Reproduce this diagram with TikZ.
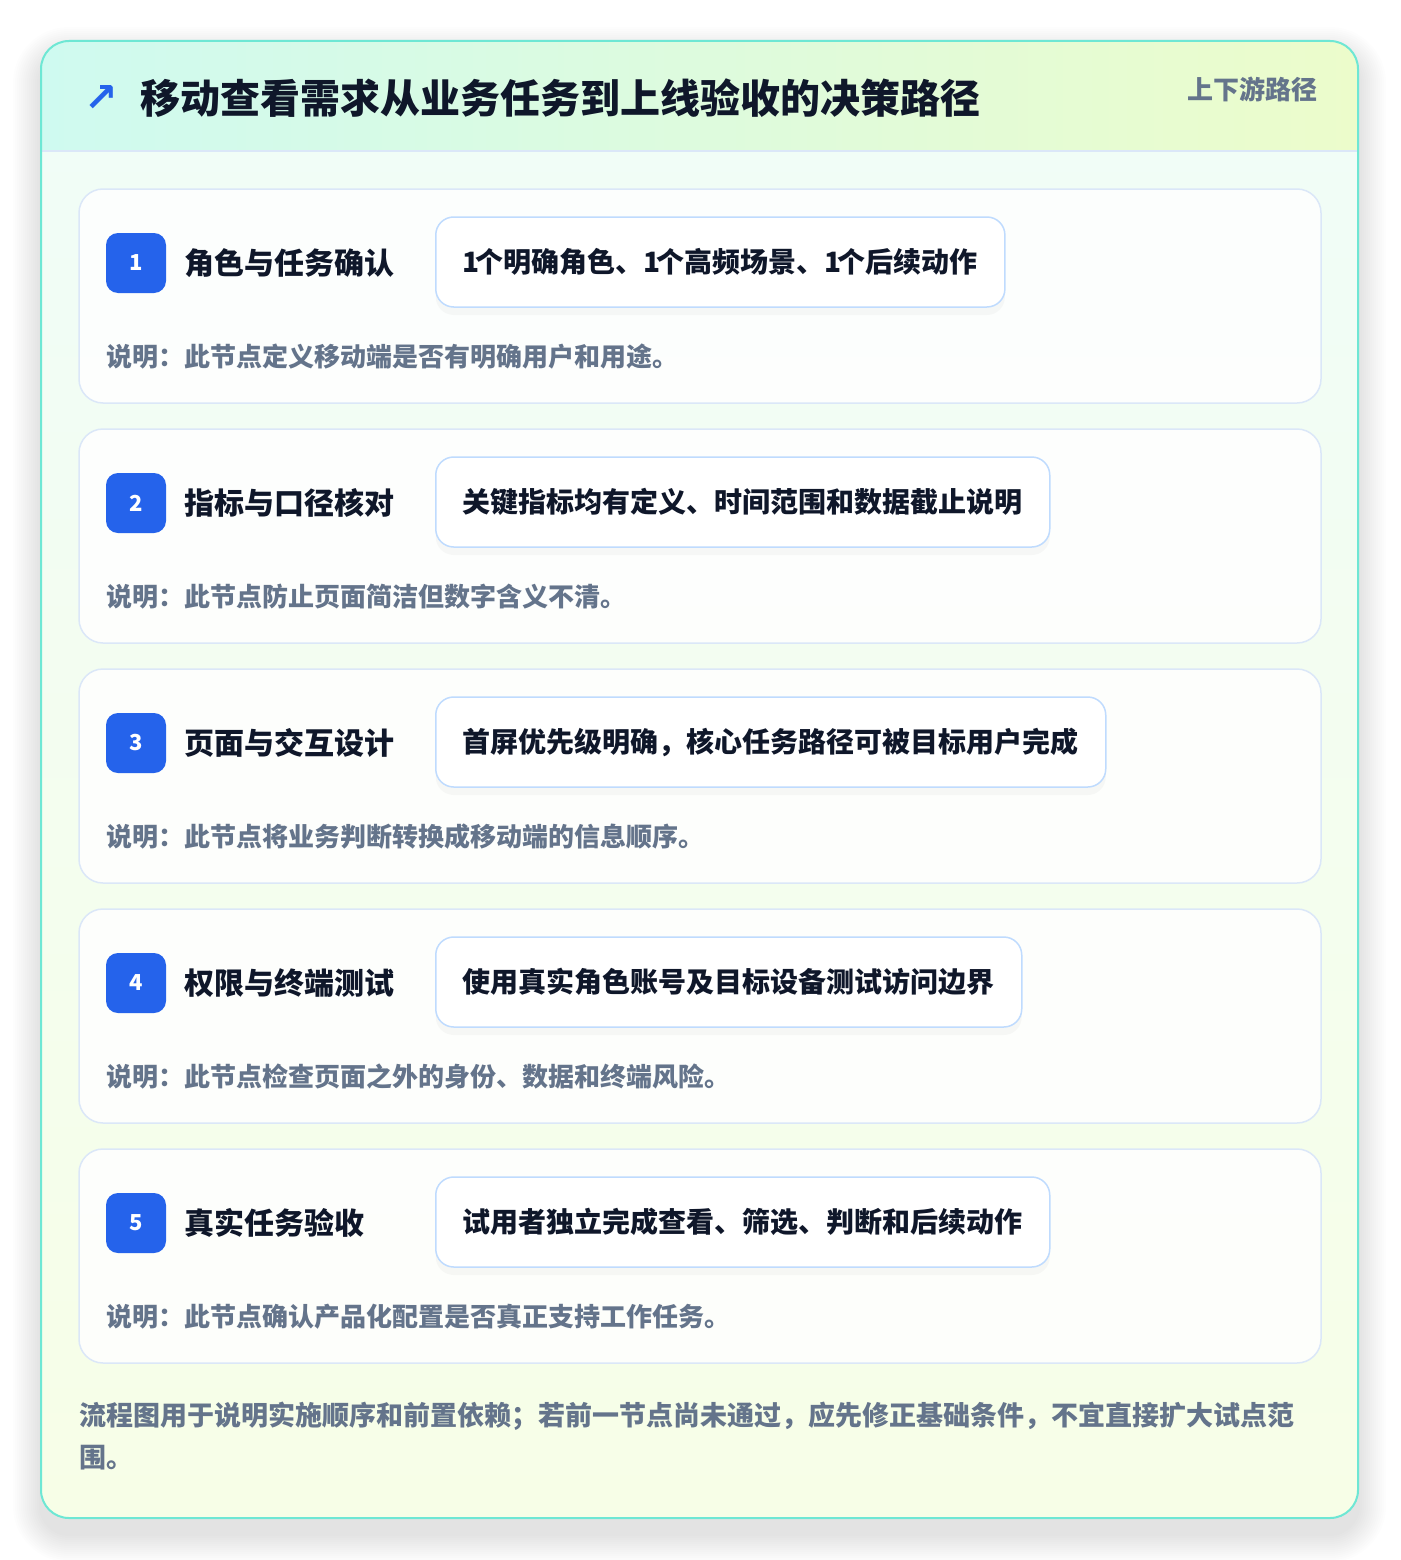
\documentclass[tikz,border=0pt]{standalone}
\usepackage{fontspec}
\setmainfont{Noto Sans CJK SC}
\newfontfamily\symfont{DejaVu Sans}
\usetikzlibrary{shadows}

\definecolor{frameteal}{HTML}{6EE7D4}
\definecolor{headleft}{HTML}{CFFAF0}
\definecolor{headright}{HTML}{ECFCCB}
\definecolor{bodytop}{HTML}{F0FDF8}
\definecolor{bodybottom}{HTML}{F7FEE7}
\definecolor{cardline}{HTML}{DBE7F8}
\definecolor{pillline}{HTML}{BFDBFE}
\definecolor{badgeblue}{HTML}{2563EB}
\definecolor{inkdark}{HTML}{0F172A}
\definecolor{inkgray}{HTML}{64748B}

\tikzset{
  card/.style={draw=cardline, line width=1.5pt, fill=white, fill opacity=.85, rounded corners=24pt},
  badge/.style={fill=badgeblue, text=white, rounded corners=12pt, minimum width=60pt, minimum height=60pt,
    inner sep=0pt, font=\fontsize{22}{22}\selectfont\bfseries},
  steptitle/.style={anchor=west, inner sep=0pt, text=inkdark, font=\fontsize{30}{30}\selectfont\bfseries},
  pill/.style={anchor=west, draw=pillline, line width=1.5pt, fill=white, rounded corners=18pt,
    minimum height=90pt, inner xsep=27pt, inner ysep=0pt, text=inkdark,
    font=\fontsize{28}{28}\selectfont\bfseries,
    drop shadow={opacity=.05, shadow xshift=0pt, shadow yshift=-8pt}},
  notetext/.style={anchor=west, inner sep=0pt, text=inkgray, font=\fontsize{26}{26}\selectfont\bfseries}
}

\begin{document}
\begin{tikzpicture}[x=1pt,y=-1pt]
\useasboundingbox (0,0) rectangle (1400,1560);
\fill[white] (0,0) rectangle (1400,1560);

% soft shadow round the frame
\foreach \index in {1,2,...,14} {\fill[black, opacity=.006, rounded corners=28pt+2*\index pt]
  (41-2*\index,41-2*\index+14) rectangle (1358+2*\index,1518+2*\index+16);};

% frame body and header band
\shade[top color=bodytop, bottom color=bodybottom, rounded corners=28pt] (41,41) rectangle (1358,1518);
\begin{scope}
  \clip[rounded corners=28pt] (41,41) rectangle (1358,1518);
  \shade[left color=headleft, right color=headright] (41,41) rectangle (1358,151);
\end{scope}
\draw[cardline, line width=1.5pt] (42,151) -- (1357,151);
\draw[frameteal, line width=2pt, rounded corners=28pt] (41,41) rectangle (1358,1518);

% header texts
\node[anchor=west, inner sep=0pt, text=badgeblue, font=\symfont\bfseries\fontsize{40}{40}\selectfont] (arrow) at (84,99) {↗};
\node[anchor=west, inner sep=0pt, text=inkdark, font=\fontsize{40}{40}\selectfont\bfseries] (title) at (140,98)
  {移动查看需求从业务任务到上线验收的决策路径};
\node[anchor=east, inner sep=0pt, text=inkgray, font=\fontsize{26}{26}\selectfont\bfseries] (tag) at (1318,89) {上下游路径};

% the five step cards
\foreach \index/\steplabel/\pilltext/\notelabel in {
  1/角色与任务确认/1\kern-4pt 个明确角色、1\kern-4pt 个高频场景、1\kern-4pt 个后续动作/此节点定义移动端是否有明确用户和用途。,
  2/指标与口径核对/关键指标均有定义、时间范围和数据截止说明/此节点防止页面简洁但数字含义不清。,
  3/页面与交互设计/首屏优先级明确，核心任务路径可被目标用户完成/此节点将业务判断转换成移动端的信息顺序。,
  4/权限与终端测试/使用真实角色账号及目标设备测试访问边界/此节点检查页面之外的身份、数据和终端风险。,
  5/真实任务验收/试用者独立完成查看、筛选、判断和后续动作/此节点确认产品化配置是否真正支持工作任务。} {
  \pgfmathsetmacro{\top}{189+240*(\index-1)}
  \draw[card] (79,\top) rectangle (1321,\top+214);
  \node[badge] (badge\index) at (136,\top+74) {\index};
  \node[steptitle] (step\index) at (184,\top+74) {\steplabel};
  \node[pill] (pill\index) at (435,\top+73) {\pilltext};
  \node[notetext] (note\index) at (106,\top+168) {说明：\notelabel};
};

% footer remark
\node[anchor=west, inner sep=0pt, align=left, text=inkgray, font=\fontsize{27}{42}\selectfont\bfseries] (remark) at (79,1436)
  {流程图用于说明实施顺序和前置依赖；若前一节点尚未通过，应先修正基础条件，不宜直接扩大试点范\\围。};
\end{tikzpicture}
\end{document}
